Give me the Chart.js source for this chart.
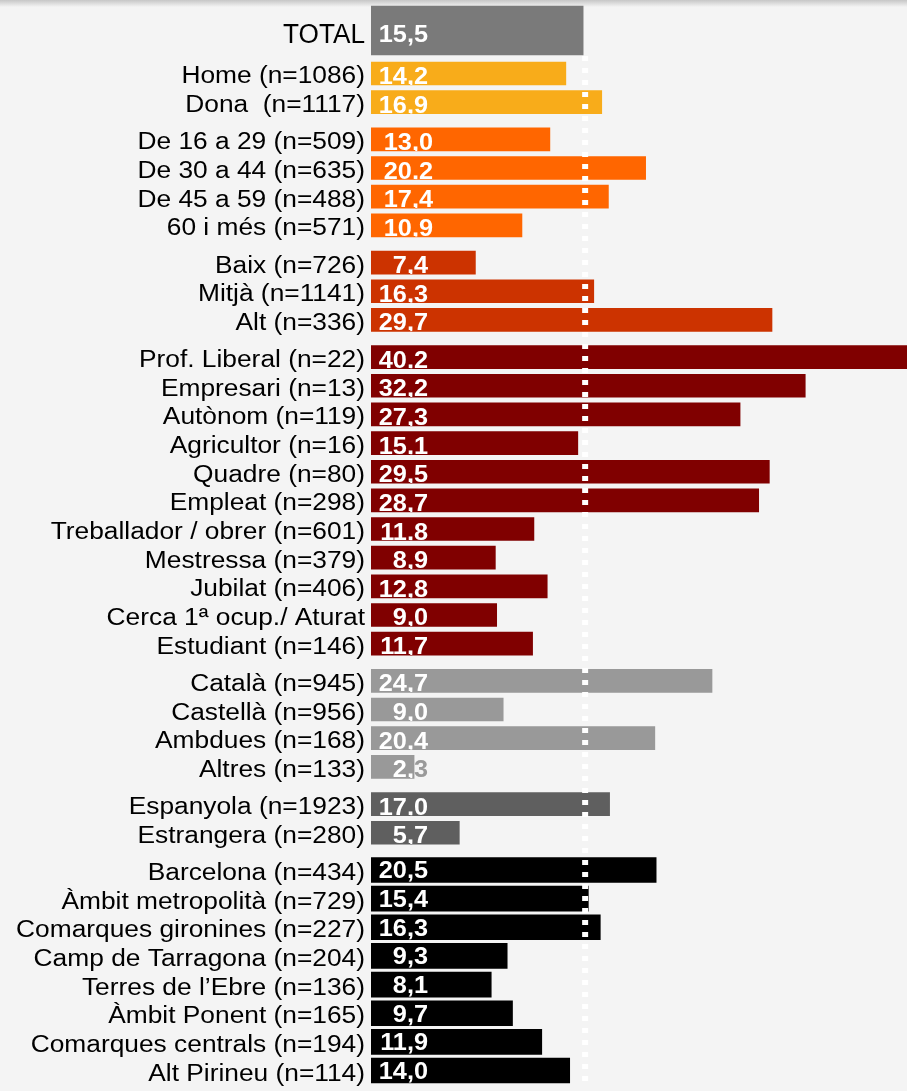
<!DOCTYPE html>
<html>
<head>
<meta charset="utf-8">
<script src="https://cdn.jsdelivr.net/npm/chart.js@4.4.1/dist/chart.umd.min.js"></script>
<style>
  html, body { margin: 0; padding: 0; }
  body {
    width: 907px; height: 1091px; overflow: hidden;
    background: #f4f4f4 linear-gradient(#c6c6c6, #f4f4f4) no-repeat;
    background-size: 100% 7px;
  }
  canvas { display: block; }
</style>
</head>
<body>
<canvas id="chart" width="907" height="1091"></canvas>
<script>
// data
const totalLabels = ['TOTAL'];
const totalValues = [15.5];

const sexLabels = ['Home (n=1086)', 'Dona  (n=1117)'];
const sexValues = [14.2, 16.9];

const ageLabels = ['De 16 a 29 (n=509)', 'De 30 a 44 (n=635)', 'De 45 a 59 (n=488)', '60 i més (n=571)'];
const ageValues = [13.0, 20.2, 17.4, 10.9];

const classLabels = ['Baix (n=726)', 'Mitjà (n=1141)', 'Alt (n=336)'];
const classValues = [7.4, 16.3, 29.7];

const jobLabels = ['Prof. Liberal (n=22)', 'Empresari (n=13)', 'Autònom (n=119)', 'Agricultor (n=16)',
    'Quadre (n=80)', 'Empleat (n=298)', 'Treballador / obrer (n=601)', 'Mestressa (n=379)',
    'Jubilat (n=406)', 'Cerca 1ª ocup./ Aturat', 'Estudiant (n=146)'];
const jobValues = [40.2, 32.2, 27.3, 15.1, 29.5, 28.7, 11.8, 8.9, 12.8, 9.0, 11.7];

const langLabels = ['Català (n=945)', 'Castellà (n=956)', 'Ambdues (n=168)', 'Altres (n=133)'];
const langValues = [24.7, 9.0, 20.4, 2.3];

const natLabels = ['Espanyola (n=1923)', 'Estrangera (n=280)'];
const natValues = [17.0, 5.7];

const areaLabels = ['Barcelona (n=434)', 'Àmbit metropolità (n=729)', 'Comarques gironines (n=227)',
    'Camp de Tarragona (n=204)', 'Terres de l\u2019Ebre (n=136)', 'Àmbit Ponent (n=165)',
    'Comarques centrals (n=194)', 'Alt Pirineu (n=114)'];
const areaValues = [20.5, 15.4, 16.3, 9.3, 8.1, 9.7, 11.9, 14.0];

// the bottom three blocks were drawn on a slightly shifted scale in the original
const axisMin = { x: -0.45, x2: -0.94 };
const AXIS_SPAN = 40.3;

const groups = [
    { labels: totalLabels, values: totalValues, color: '#7a7a7a', axis: 'x', thickness: 49, total: true },
    { labels: sexLabels, values: sexValues, color: '#f8ac1a', axis: 'x', thickness: 23 },
    { labels: ageLabels, values: ageValues, color: '#ff6600', axis: 'x', thickness: 23, valueX: 62 },
    { labels: classLabels, values: classValues, color: '#cc3300', axis: 'x', thickness: 23 },
    { labels: jobLabels, values: jobValues, color: '#800000', axis: 'x', thickness: 23 },
    { labels: langLabels, values: langValues, color: '#999999', axis: 'x2', thickness: 23 },
    { labels: natLabels, values: natValues, color: '#5f5f5f', axis: 'x2', thickness: 23 },
    { labels: areaLabels, values: areaValues, color: '#000000', axis: 'x2', thickness: 25, valueDy: 8.5 }
];

// row slots: one per bar, a small gap between blocks
const TOTAL_GAP = 0.5;
const BLOCK_GAP = 0.3;
let slot = 0;
groups.forEach((g, gi) => {
    if (gi === 1) slot += TOTAL_GAP;
    else if (gi > 1) slot += BLOCK_GAP;
    g.slots = g.values.map(() => slot++);
});

const fmt = v => v.toFixed(1).replace('.', ',');

const drawText = (ctx, text, x, y, sx) => {
    ctx.save();
    ctx.translate(x, y);
    ctx.scale(sx, 1);
    ctx.fillText(text, 0, 0);
    ctx.restore();
};

const labelPlugin = {
    id: 'rowLabels',
    afterDatasetsDraw(chart) {
        const ctx = chart.ctx;
        const area = chart.chartArea;

        // reference line at the total value
        const totalBar = chart.getDatasetMeta(0).data[0];
        const lx = chart.scales.x.getPixelForValue(totalValues[0]) + 2;
        ctx.save();
        ctx.strokeStyle = '#ffffff';
        ctx.lineWidth = 6;
        ctx.setLineDash([5, 7]);
        ctx.beginPath();
        ctx.moveTo(lx, totalBar.y + totalBar.height / 2 + 1);
        ctx.lineTo(lx, area.bottom - 6);
        ctx.stroke();
        ctx.restore();

        groups.forEach((g, di) => {
            const meta = chart.getDatasetMeta(di);
            meta.data.forEach((bar, i) => {
                const top = bar.y - bar.height / 2;
                const bottom = bar.y + bar.height / 2;

                // category label
                ctx.save();
                ctx.fillStyle = '#000000';
                ctx.textAlign = 'right';
                ctx.textBaseline = 'alphabetic';
                if (g.total) {
                    ctx.font = '27px "Liberation Sans", Arial, sans-serif';
                    drawText(ctx, g.labels[i], area.left - 6, bar.y + 12.8, 0.97);
                } else {
                    ctx.font = '23.5px "Liberation Sans", Arial, sans-serif';
                    drawText(ctx, g.labels[i], area.left - 6, bar.y + 10, 1.12);
                }
                ctx.restore();

                // value, clipped to the bar like in the original
                const tx = area.left + (g.valueX || 57);
                const ty = bar.y + (g.valueDy || (g.total ? 11 : 10.5));
                ctx.save();
                ctx.font = 'bold 23px "Liberation Sans", Arial, sans-serif';
                ctx.textAlign = 'right';
                ctx.textBaseline = 'alphabetic';
                ctx.beginPath();
                ctx.rect(0, top, chart.width, bottom - top);
                ctx.clip();
                ctx.fillStyle = g.color;
                drawText(ctx, fmt(g.values[i]), tx, ty, 1.1);
                ctx.beginPath();
                ctx.rect(bar.base, top, bar.x - bar.base, bottom - top);
                ctx.clip();
                ctx.fillStyle = '#ffffff';
                drawText(ctx, fmt(g.values[i]), tx, ty, 1.1);
                ctx.restore();
            });
        });
    }
};

new Chart(document.getElementById('chart'), {
    type: 'bar',
    data: {
        datasets: groups.map(g => ({
            data: g.values.map((v, i) => ({ x: v, y: g.slots[i] })),
            backgroundColor: g.color,
            xAxisID: g.axis,
            base: axisMin[g.axis],
            barThickness: g.thickness,
            grouped: false,
            borderWidth: 0
        }))
    },
    options: {
        indexAxis: 'y',
        responsive: false,
        animation: false,
        layout: { padding: { left: 371, right: 0, top: 0, bottom: 0 } },
        scales: {
            y: { type: 'linear', min: -1.065, max: 37.015, reverse: true, offset: false, display: false },
            x: { type: 'linear', axis: 'x', min: axisMin.x, max: axisMin.x + AXIS_SPAN, display: false },
            x2: { type: 'linear', axis: 'x', min: axisMin.x2, max: axisMin.x2 + AXIS_SPAN, display: false }
        },
        plugins: { legend: { display: false }, tooltip: { enabled: false } }
    },
    plugins: [labelPlugin]
});
</script>
</body>
</html>
